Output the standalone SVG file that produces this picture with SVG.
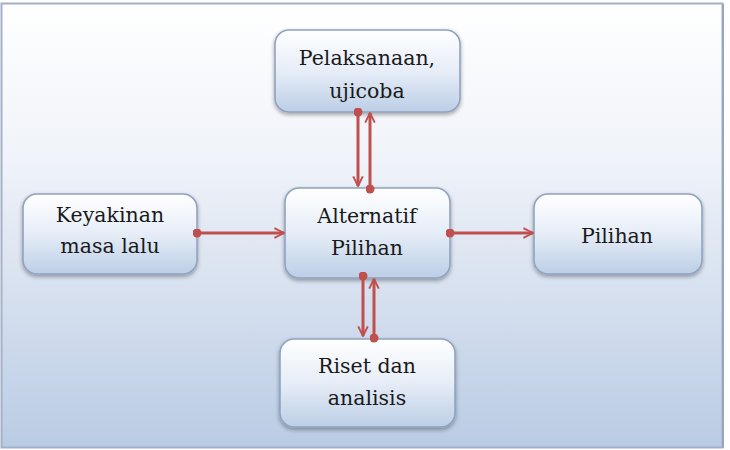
<svg xmlns="http://www.w3.org/2000/svg" width="730" height="450" viewBox="0 0 730 450">
<defs>
<linearGradient id="bg" x1="0" y1="0" x2="0" y2="1">
<stop offset="0" stop-color="#ffffff"/>
<stop offset="0.35" stop-color="#f0f3f9"/>
<stop offset="1" stop-color="#b9cbe4"/>
</linearGradient>
<linearGradient id="box" x1="0" y1="0" x2="0" y2="1">
<stop offset="0" stop-color="#ffffff"/>
<stop offset="0.5" stop-color="#e6edf7"/>
<stop offset="1" stop-color="#bccee6"/>
</linearGradient>
<filter id="sh" x="-10%" y="-10%" width="120%" height="130%">
<feGaussianBlur in="SourceAlpha" stdDeviation="2"/>
<feOffset dx="0" dy="2" result="b"/>
<feComponentTransfer><feFuncA type="linear" slope="0.35"/></feComponentTransfer>
<feMerge><feMergeNode/><feMergeNode in="SourceGraphic"/></feMerge>
</filter>
<marker id="ah" viewBox="0 0 10 10" refX="9" refY="5" markerWidth="4" markerHeight="4" orient="auto" markerUnits="strokeWidth">
<path d="M1,1 L9,5 L1,9" fill="none" stroke="#c0504d" stroke-width="1.6"/>
</marker>
<marker id="dot" viewBox="0 0 10 10" refX="5" refY="5" markerWidth="3" markerHeight="3" orient="auto" markerUnits="strokeWidth">
<circle cx="5" cy="5" r="5" fill="#c0504d"/>
</marker>
</defs>
<style>
.node rect{fill:url(#box);stroke:#8fa3c0;stroke-width:1.6;filter:url(#sh)}
.node text{font-family:"DejaVu Serif","Liberation Serif",serif;font-size:20.5px;fill:#1a1a1a;text-anchor:middle}
.conn line{stroke:#c0504d;stroke-width:3;marker-start:url(#dot);marker-end:url(#ah)}
</style>
<rect x="1.5" y="3.5" width="721" height="444" fill="url(#bg)" stroke="#a3b0c6" stroke-width="2"/>
<line x1="723" y1="4" x2="723" y2="448" stroke="#97a6bf" stroke-width="2"/>
<g id="pelaksanaan" class="node">
<rect x="275" y="30" width="185" height="82" rx="14"/>
<text x="367" y="65">Pelaksanaan,</text>
<text x="367" y="98">ujicoba</text>
</g>
<g id="alternatif" class="node">
<rect x="285" y="188" width="165" height="90" rx="14"/>
<text x="367" y="223">Alternatif</text>
<text x="367" y="255">Pilihan</text>
</g>
<g id="keyakinan" class="node">
<rect x="23" y="194" width="174" height="80" rx="14"/>
<text x="110" y="222">Keyakinan</text>
<text x="110" y="253">masa lalu</text>
</g>
<g id="pilihan" class="node">
<rect x="534" y="194" width="168" height="80" rx="14"/>
<text x="617" y="243">Pilihan</text>
</g>
<g id="riset" class="node">
<rect x="280" y="339" width="175" height="88" rx="14"/>
<text x="367" y="373">Riset dan</text>
<text x="367" y="405">analisis</text>
</g>
<g id="connectors" class="conn">
<line x1="197" y1="233" x2="284" y2="233"/>
<line x1="450" y1="233" x2="533" y2="233"/>
<line x1="358" y1="112" x2="358" y2="186"/>
<line x1="370" y1="189" x2="370" y2="113"/>
<line x1="363" y1="276" x2="363" y2="336"/>
<line x1="374" y1="338" x2="374" y2="279"/>
</g>
</svg>
